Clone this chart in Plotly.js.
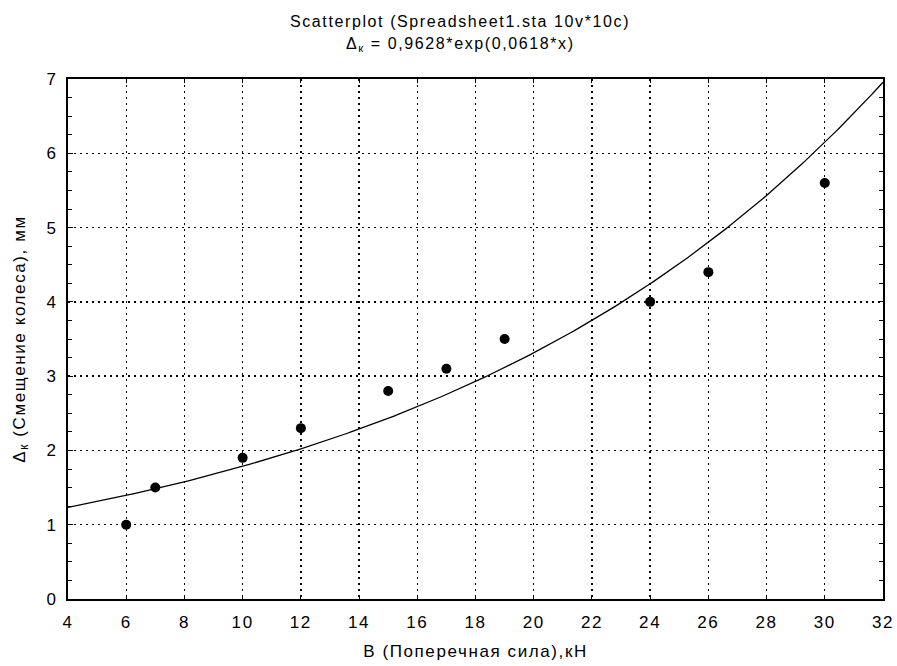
<!DOCTYPE html>
<html>
<head>
<meta charset="utf-8">
<script src="https://cdn.plot.ly/plotly-3.0.1.min.js"></script>
<style>html,body{margin:0;padding:0;background:#fff}#chart{width:897px;height:666px}svg text{letter-spacing:1.6px}</style>
</head>
<body>
<div id="chart"></div>
<script>
// Observed data
const forceX = [6, 7, 10, 12, 15, 17, 19, 24, 26, 30];
const shiftY = [1.0, 1.5, 1.9, 2.3, 2.8, 3.1, 3.5, 4.0, 4.4, 5.6];
// Fitted model shown in the title: Δк = a*exp(b*x)
const fitA = 0.9628;
const fitB = 0.0618;
const xTicks = [4, 6, 8, 10, 12, 14, 16, 18, 20, 22, 24, 26, 28, 30, 32];
const yTicks = [0, 1, 2, 3, 4, 5, 6, 7];
const titleLine1 = 'Scatterplot (Spreadsheet1.sta 10v*10c)';
const titleLine2 = 'Δ<sub>к</sub> = 0,9628*exp(0,0618*x)';
const xTitle = 'В (Поперечная сила),кН';
const yTitle = 'Δ<sub>к</sub> (Смещение колеса), мм';

const fitX = [];
const fitY = [];
for (let i = 0; i <= 280; i++) {
  const x = 4 + i * 0.1;
  fitX.push(x);
  fitY.push(fitA * Math.exp(fitB * x));
}

const font = {family: 'Liberation Sans, Arial, sans-serif', size: 17, color: '#000'};
const titleFont = {family: 'Liberation Sans, Arial, sans-serif', size: 16, color: '#000'};

const data = [
  {x: fitX, y: fitY, mode: 'lines', line: {color: '#000', width: 1.3}, hoverinfo: 'skip'},
  {x: forceX, y: shiftY, mode: 'markers', marker: {color: '#000', size: 10, symbol: 'circle'}}
];

const layout = {
  width: 897, height: 666,
  margin: {l: 68, r: 14, t: 79, b: 67},
  paper_bgcolor: '#fff', plot_bgcolor: '#fff',
  showlegend: false,
  font: font,
  xaxis: {
    range: [4, 32], tickvals: xTicks, ticktext: xTicks.map(String),
    showgrid: true, gridcolor: '#000', griddash: '2px,4px', gridwidth: 1.3,
    zeroline: false, showline: true, linecolor: '#000', linewidth: 2, mirror: 'ticks',
    ticks: 'inside', ticklen: 4, tickcolor: '#000',
    tickfont: font, ticklabelstandoff: 7,
    title: {text: xTitle, font: font, standoff: 14}
  },
  yaxis: {
    range: [0, 7], tickvals: yTicks, ticktext: yTicks.map(String),
    showgrid: true, gridcolor: '#000', griddash: '2px,4px', gridwidth: 1.3,
    zeroline: false, showline: true, linecolor: '#000', linewidth: 2, mirror: 'ticks',
    ticks: 'inside', ticklen: 5, tickcolor: '#000',
    minor: {dtick: 0.25, ticks: 'inside', ticklen: 4, tickcolor: '#000', showgrid: false},
    tickfont: font, ticklabelstandoff: 5,
    title: {text: yTitle, font: font, standoff: 17}
  },
  annotations: [
    {text: titleLine1, xref: 'paper', yref: 'paper', x: 0.481, y: 1, yshift: 58, showarrow: false, font: titleFont, xanchor: 'center', yanchor: 'middle'},
    {text: titleLine2, xref: 'paper', yref: 'paper', x: 0.481, y: 1, yshift: 35, showarrow: false, font: titleFont, xanchor: 'center', yanchor: 'middle'}
  ]
};

Plotly.newPlot('chart', data, layout, {displayModeBar: false, staticPlot: true});
</script>
</body>
</html>
